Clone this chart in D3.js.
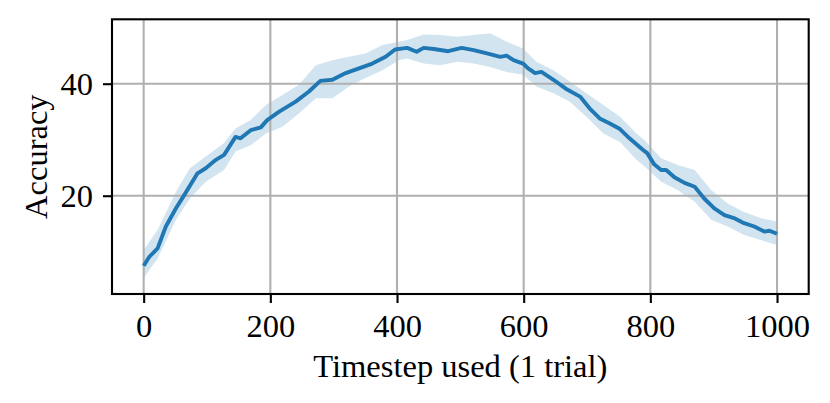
<!DOCTYPE html>
<meta charset="utf-8">
<style>

body { margin: 0; background: #fff; }

text {
  font-family: "Liberation Serif", "Times New Roman", serif;
  fill: #000;
}

.grid line {
  stroke: #b0b0b0;
  stroke-width: 2.1px;
}

</style>

<svg width="830" height="403"></svg>
<script src="https://cdn.jsdelivr.net/npm/d3@7"></script>
<script>

// mean accuracy
var steps = [0, 9, 22, 35, 51, 64, 85, 98, 114, 127, 145, 153, 169, 185, 195,
  214, 240, 261, 279, 298, 319, 340, 361, 382, 397, 410, 416, 431, 442, 458,
  481, 502, 521, 542, 563, 573, 584, 599, 607, 618, 628, 647, 668, 689, 704,
  720, 736, 752, 767, 788, 795, 806, 817, 825, 838, 854, 870, 885, 901, 917,
  932, 948, 964, 980, 988, 1000];
var accuracy = [7.5, 9.1, 10.6, 14.5, 17.75, 20.1, 24.0, 24.9, 26.4, 27.3, 30.5, 30.25, 31.7, 32.2, 33.5,
  35.0, 36.8, 38.6, 40.5, 40.7, 41.9, 42.75, 43.6, 44.8, 46.1, 46.3, 46.4, 45.7, 46.4, 46.2,
  45.8, 46.4, 46.0, 45.4, 44.8, 45.0, 44.2, 43.6, 42.75, 41.9, 42.1, 40.7, 39.0, 37.7, 35.6,
  33.8, 32.9, 31.9, 30.25, 28.2, 27.6, 25.6, 24.6, 24.6, 23.3, 22.3, 21.6, 19.5, 17.75, 16.55,
  16.0, 15.1, 14.5, 13.6, 13.75, 13.2];

// shaded spread
var bandSteps = [0, 22, 51, 73, 98, 127, 145, 169, 193, 219, 245, 272, 298, 324, 350,
  377, 403, 416, 442, 468, 495, 521, 547, 573, 599, 620, 647, 673, 699, 726,
  752, 778, 791, 817, 843, 870, 896, 922, 948, 974, 1000];
var bandHigh = [10.3, 13.9, 20.7, 24.9, 27.0, 29.4, 32.0, 33.5, 36.2, 38.0, 39.8, 43.3, 44.2, 44.8, 45.4,
  46.9, 47.5, 47.8, 48.8, 48.7, 48.4, 48.7, 49.0, 47.5, 46.3, 43.9, 42.4, 40.4, 38.3, 36.2,
  34.1, 31.1, 29.9, 26.7, 25.5, 24.6, 21.0, 18.6, 17.1, 16.0, 15.4];
var bandLow = [5.3, 8.8, 15.7, 19.5, 22.5, 24.6, 27.9, 29.0, 31.1, 32.3, 34.7, 37.4, 37.4, 39.5, 41.0,
  42.4, 44.2, 44.5, 43.6, 43.3, 43.9, 43.6, 43.0, 42.1, 41.6, 39.5, 38.3, 36.8, 34.1, 31.1,
  29.6, 26.4, 25.2, 22.5, 21.0, 18.9, 15.7, 14.5, 13.0, 12.1, 11.2];

var xTicks = [0, 200, 400, 600, 800, 1000];
var yTicks = [20, 40];

var svg = d3.select("svg"),
    plotLeft = 112, plotRight = 808.7, plotTop = 19.3, plotBottom = 294,
    fontSize = 32.5;

var x = d3.scaleLinear().domain([-50, 1050]).range([plotLeft, plotRight]);
var y = d3.scaleLinear().domain([2.45, 51.5]).range([plotBottom, plotTop]);

var line = steps.map(function(s, i) { return {t: s, v: accuracy[i]}; });
var band = bandSteps.map(function(s, i) { return {t: s, lo: bandLow[i], hi: bandHigh[i]}; });

// spread first, grid on top of it, line last (matplotlib order)
svg.append("path")
    .datum(band)
    .attr("fill", "#1f77b4")
    .attr("fill-opacity", 0.2)
    .attr("d", d3.area()
      .x(function(d) { return x(d.t); })
      .y0(function(d) { return y(d.lo); })
      .y1(function(d) { return y(d.hi); }));

var grid = svg.append("g").attr("class", "grid");
grid.selectAll(".gx")
    .data(xTicks)
  .enter().append("line")
    .attr("x1", x).attr("x2", x)
    .attr("y1", plotTop).attr("y2", plotBottom);
grid.selectAll(".gy")
    .data(yTicks)
  .enter().append("line")
    .attr("x1", plotLeft).attr("x2", plotRight)
    .attr("y1", y).attr("y2", y);

svg.append("path")
    .datum(line)
    .attr("fill", "none")
    .attr("stroke", "#1f77b4")
    .attr("stroke-width", 3.9)
    .attr("stroke-linejoin", "round")
    .attr("d", d3.line()
      .x(function(d) { return x(d.t); })
      .y(function(d) { return y(d.v); }));

var xAxis = svg.append("g")
    .attr("transform", "translate(0," + plotBottom + ")")
    .call(d3.axisBottom(x).tickValues(xTicks).tickSize(9).tickPadding(11).tickFormat(d3.format("d")));

var yAxis = svg.append("g")
    .attr("transform", "translate(" + plotLeft + ",0)")
    .call(d3.axisLeft(y).tickValues(yTicks).tickSize(9).tickPadding(10).tickFormat(d3.format("d")));

[xAxis, yAxis].forEach(function(a) {
  a.select(".domain").remove();
  a.attr("font-family", null).attr("font-size", null);
  a.selectAll(".tick line").attr("stroke", "#000").attr("stroke-width", 2.1);
  a.selectAll(".tick text").style("font-size", fontSize + "px");
});

svg.append("rect")
    .attr("x", plotLeft).attr("y", plotTop)
    .attr("width", plotRight - plotLeft).attr("height", plotBottom - plotTop)
    .attr("fill", "none")
    .attr("stroke", "#000")
    .attr("stroke-width", 2.1);

svg.append("text")
    .attr("x", (plotLeft + plotRight) / 2)
    .attr("y", 376.7)
    .attr("text-anchor", "middle")
    .style("font-size", fontSize + "px")
    .text("Timestep used (1 trial)");

svg.append("text")
    .attr("transform", "translate(46.5," + (plotTop + plotBottom) / 2 + ") rotate(-90)")
    .attr("text-anchor", "middle")
    .style("font-size", fontSize + "px")
    .text("Accuracy");

</script>
